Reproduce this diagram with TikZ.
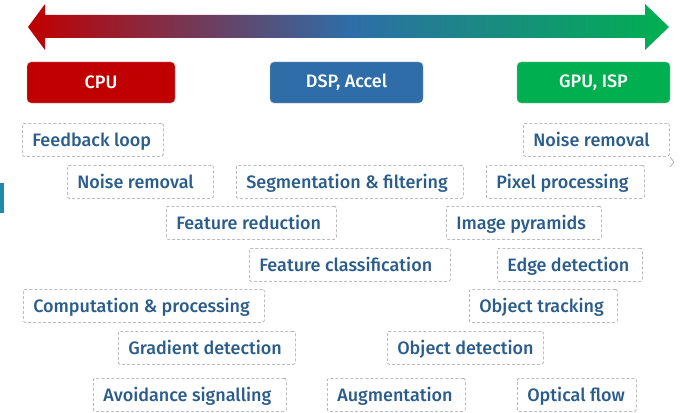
\documentclass[tikz,border=0pt]{standalone}
\usepackage{fontspec}
\setmainfont{Fira Sans}[UprightFont=* Medium]
\usepackage{tikz}
\usepackage{xcolor}
\definecolor{cpured}{HTML}{C00000}
\definecolor{dspblue}{HTML}{2E6DA8}
\definecolor{gpugreen}{HTML}{00B050}
\definecolor{tasktext}{HTML}{2A5C8C}
\definecolor{dashgray}{HTML}{999999}
\definecolor{sidebar}{HTML}{1F8BAA}
\newcommand{\lbox}[2]{\makebox[#1pt][l]{#2}}

\begin{document}
\begin{tikzpicture}[x=1pt,y=-1pt]
  \tikzstyle hw=[draw=gray!60,line width=0.4pt,rounded corners=4pt,minimum height=41pt,
    text=white,font=\fontsize{18}{20}\selectfont];
  \tikzstyle tg=[draw=dashgray,line width=0.6pt,dash pattern=on 3pt off 2pt,rounded corners=2pt,
    anchor=north west,minimum height=33pt,inner xsep=10pt,inner ysep=0pt,
    text height=15.5pt,text depth=1.5pt,
    text=tasktext,font=\fontsize{18}{20}\selectfont];
  \useasboundingbox (0,0) rectangle (682,412);

  % scale arrow
  \shade[left color=cpured,right color=gpugreen,middle color=dspblue]
    (28,27) -- (45,4) -- (45,15) -- (645,15) -- (645,4) -- (669,27)
    -- (645,50) -- (645,38) -- (45,38) -- (45,50) -- cycle;

  % hardware boxes
  \node[hw,fill=cpured,minimum width=148pt] (cpu) at (101,82.5) {CPU};
  \node[hw,fill=dspblue,minimum width=153pt] (dsp) at (346.5,82.5) {DSP, Accel};
  \node[hw,fill=gpugreen,minimum width=153pt] (gpu) at (593.5,82.5) {GPU, ISP};

  % tasks
  \node[tg] (fb) at (22,123) {\lbox{121}{Feedback loop}};
  \node[tg] (nrl) at (67,165) {\lbox{126}{Noise removal}};
  \node[tg] (seg) at (236,165) {\lbox{207}{Segmentation \& filtering}};
  \node[tg] (fred) at (166,206) {\lbox{150}{Feature reduction}};
  \node[tg] (fcl) at (249,248) {\lbox{181}{Feature classification}};
  \node[tg] (comp) at (23,289) {\lbox{221}{Computation \& processing}};
  \node[tg] (grad) at (118,331) {\lbox{157}{Gradient detection}};
  \node[tg] (avoid) at (93,378) {\lbox{173}{Avoidance signalling}};
  \node[tg] (aug) at (327,378) {\lbox{118}{Augmentation}};

  \node[tg] (nrr) at (523,123) {\lbox{126}{Noise removal}};
  \node[tg] (pix) at (486,165) {\lbox{138}{Pixel processing}};
  \node[tg] (pyr) at (446,206) {\lbox{135}{Image pyramids}};
  \node[tg] (edge) at (497,248) {\lbox{125}{Edge detection}};
  \node[tg] (trk) at (469,289) {\lbox{128}{Object tracking}};
  \node[tg] (odet) at (387,331) {\lbox{136}{Object detection}};
  \node[tg] (flow) at (517,378) {\lbox{99}{Optical flow}};

  % slide bits
  \fill[sidebar] (0,183) rectangle (4,213);
  \draw[gray] (670,157) -- (674,162) -- (670,167);
\end{tikzpicture}
\end{document}
